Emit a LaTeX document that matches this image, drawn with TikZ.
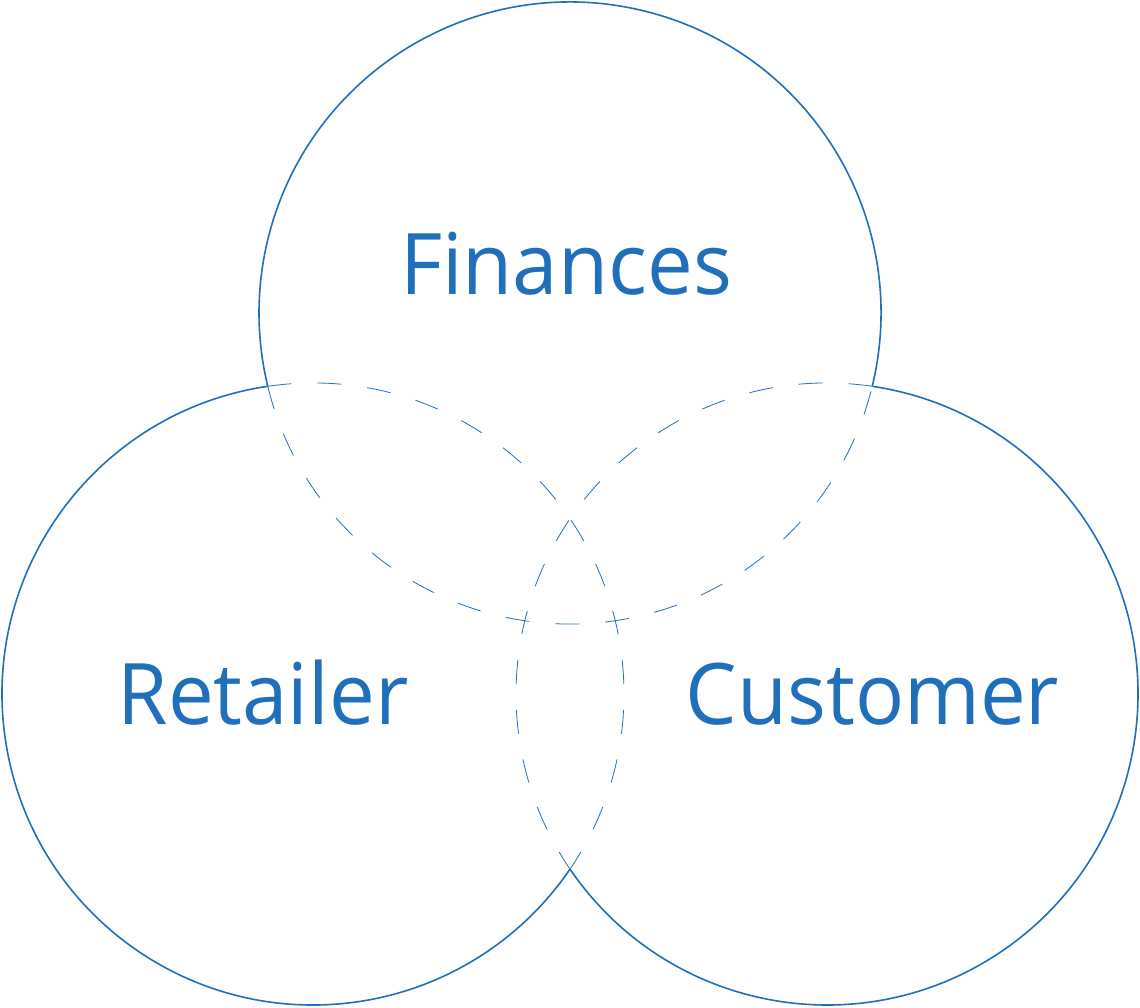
\documentclass[tikz,border=0pt]{standalone}
\usepackage{fontspec}
\setmainfont[FakeStretch=0.96]{Open Sans}
\definecolor{vblue}{HTML}{1F6FBA}
\begin{document}
\begin{tikzpicture}[x=1pt,y=1pt,
  solidarc/.style={draw=vblue,line width=1.6pt},
  dasharc/.style={draw=vblue,line width=0.8pt,dash pattern=on 24pt off 26pt},
  lbl/.style={text=vblue,font=\fontsize{85}{90}\selectfont,anchor=base,inner sep=0pt}]
\useasboundingbox (0,0) rectangle (1140,1008);
\coordinate (cF) at (570,695);
\coordinate (cR) at (313,314);
\coordinate (cC) at (827,314);
% solid outer parts
\draw[solidarc] (cF) ++(-13.6:311) arc[start angle=-13.6,end angle=193.6,radius=311];
\draw[solidarc] (cR) ++(98.4:311) arc[start angle=98.4,end angle=325.7,radius=311];
\draw[solidarc] (cC) ++(-145.7:311) arc[start angle=-145.7,end angle=81.6,radius=311];
% dashed inner parts
\draw[dasharc] (cF) ++(193.6:311) arc[start angle=193.6,end angle=346.4,radius=311];
\draw[dasharc] (cR) ++(98.4:311) arc[start angle=98.4,end angle=-34.3,radius=311];
\draw[dasharc] (cC) ++(81.6:311) arc[start angle=81.6,end angle=214.3,radius=311];
\node[lbl] (fin) at (566,713) {Finances};
\node[lbl] (ret) at (263,283) {Retailer};
\node[lbl] (cus) at (872.5,283) {Customer};
\end{tikzpicture}
\end{document}
